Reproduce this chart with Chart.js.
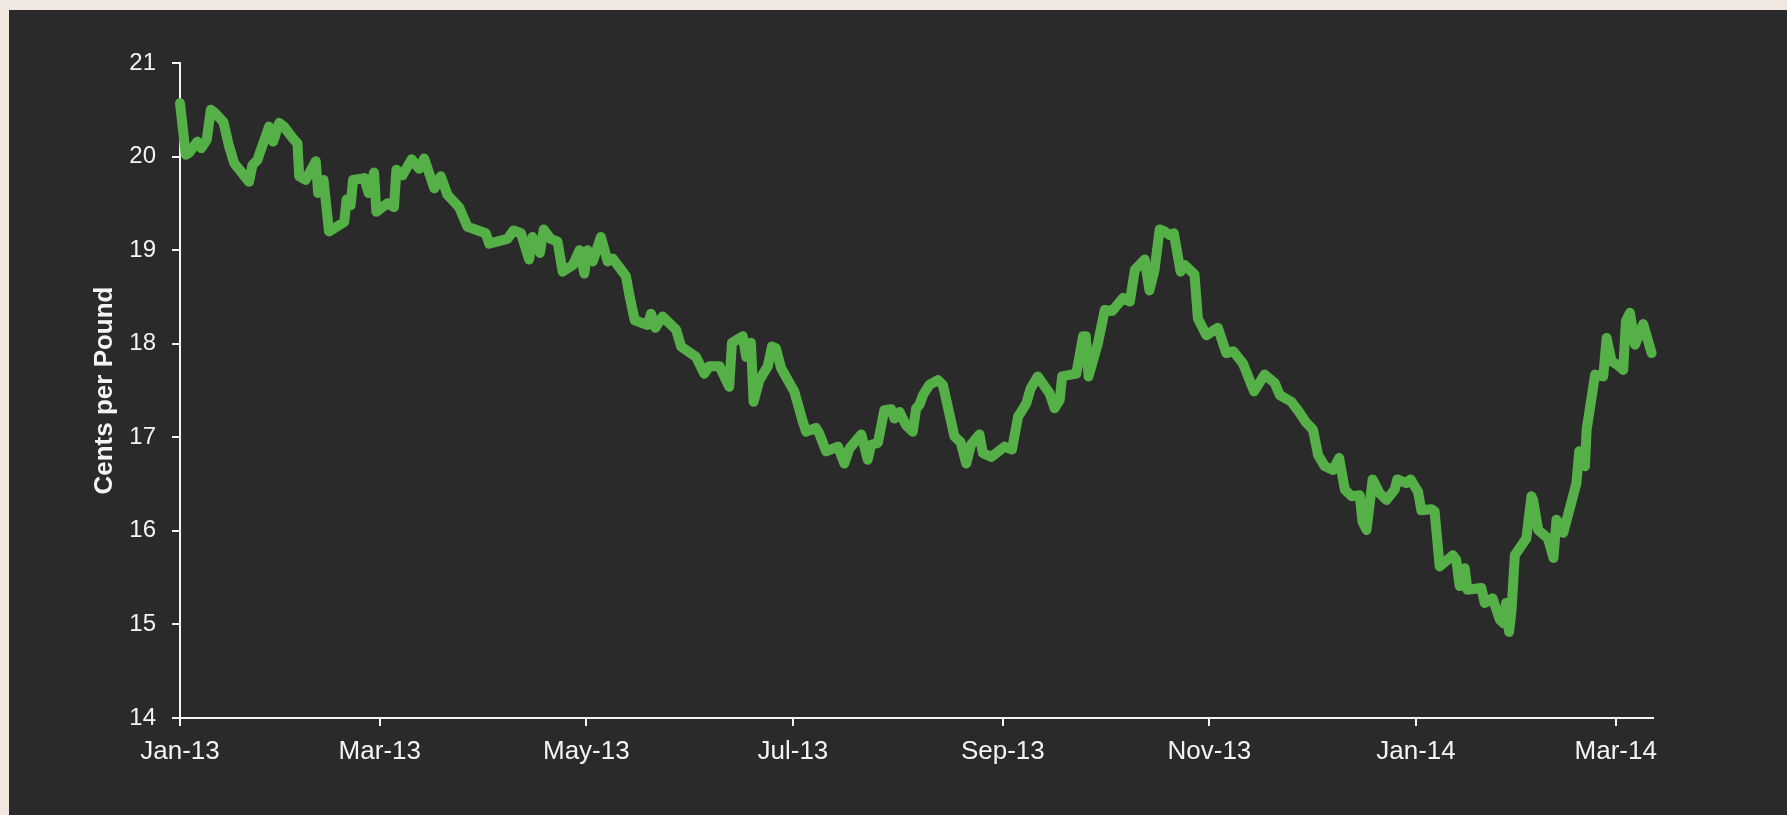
<!DOCTYPE html>
<html>
<head>
<meta charset="utf-8">
<script src="https://cdn.jsdelivr.net/npm/chart.js@4/dist/chart.umd.min.js"></script>
<style>
  html, body { margin: 0; padding: 0; background: #efe7e0; overflow: hidden; }
  #panel { position: absolute; left: 9px; top: 10px; width: 1778px; height: 805px; background: #2a2a2a; }
  #c { position: absolute; left: 0; top: 0; }
</style>
</head>
<body>
<div id="panel"></div>
<canvas id="c" width="1787" height="815"></canvas>
<script>
// Days since 1 Jan 2013
const days = [
  0, 1.7, 2.7, 5.1, 6.3, 7.9, 9.1, 10.5, 12.8, 14.5, 16, 20.4, 21.4, 22.8, 26.3, 27.5, 29.3, 30.7,
  33.2, 34.7, 35.2, 37.1, 40.1, 40.8, 42.4, 44, 48.5, 49.2, 50.4, 51.1, 54.4, 55.7, 57.3, 58,
  61.3, 63.2, 63.9, 65.7, 68.4, 70.6, 72.1, 75.1, 77, 79, 82.4, 84.9, 90.3, 91.3, 96.7, 98.5,
  100.7, 103.1, 104.1, 106.3, 107.4, 109.5, 111.5, 113, 116, 118, 119.4, 120.4, 121.9, 124.3,
  126.3, 127.8, 131.7, 132.8, 134.3, 138.1, 139.1, 140.4, 142.5, 146.5, 148, 152.4, 154.8,
  156.3, 159.3, 162.2, 163, 166.2, 167.2, 168.6, 169.4, 171.1, 173.6, 174.8, 176, 177.5, 181.4,
  183.9, 184.9, 187.8, 188.8, 190.8, 194.3, 196.2, 197.7, 201.2, 203.1, 204.1, 206.1, 208, 210,
  211, 212.5, 214.4, 216.4, 217.4, 218.4, 219.4, 221.3, 223.8, 225.3, 228.7, 230.5, 232.2,
  233.6, 236.1, 237.1, 239.6, 243.5, 245.7, 247.5, 249.9, 251.2, 253.3, 256.8, 258.3, 259.8,
  260.5, 264.7, 266.7, 267.5, 268.3, 271.1, 273.1, 275.3, 278.5, 280.5, 282, 284.9, 286.3,
  287.8, 289.3, 290.8, 292.3, 293.5, 295.5, 296.7, 299.6, 300.6, 303.1, 306.5, 309, 311, 313.9,
  317.2, 320.3, 323.3, 324.8, 328.2, 330.5, 332.5, 334.6, 336.1, 338.1, 340.5, 342.3, 344, 346,
  348.4, 349.2, 350.4, 352.2, 354.3, 356.3, 358.7, 359.5, 362.2, 363.4, 365.6, 366.6, 369.6,
  370.5, 372, 375.9, 376.9, 377.9, 379.4, 380.2, 384.3, 385.3, 387.6, 389.8, 391, 391.6, 392.5,
  393.2, 394.2, 397.6, 399.1, 399.6, 401.1, 404, 405.6, 406.5, 408.5, 412.4, 413.2, 414.9,
  415.4, 417.9, 420.3, 421.3, 422.8, 424.7, 426.2, 427, 428.2, 429.7, 432.1, 434.6
];
const centsPerPound = [
  20.57, 20.02, 20.04, 20.16, 20.09, 20.18, 20.50, 20.46, 20.37, 20.11, 19.93, 19.73, 19.91, 19.96, 20.32, 20.16, 20.36, 20.32,
  20.20, 20.14, 19.79, 19.75, 19.95, 19.61, 19.75, 19.20, 19.30, 19.54, 19.48, 19.75, 19.77, 19.61, 19.83, 19.41,
  19.50, 19.46, 19.86, 19.80, 19.97, 19.87, 19.98, 19.66, 19.79, 19.59, 19.46, 19.25, 19.18, 19.07, 19.12, 19.21,
  19.18, 18.90, 19.14, 18.97, 19.22, 19.12, 19.09, 18.77, 18.84, 19.00, 18.75, 19.00, 18.88, 19.14,
  18.88, 18.91, 18.72, 18.50, 18.25, 18.20, 18.32, 18.17, 18.29, 18.15, 17.97, 17.86, 17.68,
  17.76, 17.76, 17.54, 18.01, 18.08, 17.86, 18.01, 17.38, 17.61, 17.76, 17.97, 17.95, 17.74, 17.49,
  17.17, 17.06, 17.10, 17.04, 16.85, 16.90, 16.72, 16.88, 17.03, 16.76, 16.92, 16.94, 17.29, 17.30,
  17.20, 17.27, 17.13, 17.06, 17.31, 17.35, 17.45, 17.56, 17.61, 17.56, 17.01, 16.95, 16.72,
  16.92, 17.03, 16.83, 16.79, 16.90, 16.87, 17.22, 17.36, 17.52, 17.65, 17.47, 17.31, 17.40,
  17.65, 17.68, 18.08, 18.08, 17.65, 18.01, 18.36, 18.35, 18.49, 18.45, 18.79, 18.90, 18.57,
  18.79, 19.22, 19.20, 19.16, 19.18, 18.77, 18.84, 18.74, 18.27, 18.09, 18.17, 17.90, 17.92, 17.79,
  17.49, 17.67, 17.58, 17.45, 17.38, 17.27, 17.16, 17.08, 16.81, 16.69, 16.65, 16.78, 16.44, 16.37,
  16.38, 16.10, 16.01, 16.55, 16.40, 16.33, 16.44, 16.55, 16.51, 16.55, 16.42, 16.22, 16.23,
  16.21, 15.62, 15.74, 15.69, 15.41, 15.60, 15.37, 15.39, 15.23, 15.28, 15.05, 15.01, 15.23, 14.92,
  15.14, 15.74, 15.92, 16.37, 16.33, 16.01, 15.92, 15.71, 16.12, 15.98, 16.51, 16.85, 16.69,
  17.08, 17.67, 17.65, 18.06, 17.81, 17.77, 17.72, 18.24, 18.33, 17.99, 18.21, 17.90
];
const tickDays = [0, 59, 120, 181, 243, 304, 365, 424];
const tickLabels = ['Jan-13', 'Mar-13', 'May-13', 'Jul-13', 'Sep-13', 'Nov-13', 'Jan-14', 'Mar-14'];
const yTicks = [14, 15, 16, 17, 18, 19, 20, 21];

const points = days.map((d, i) => ({ x: d, y: centsPerPound[i] }));
const axisColor = '#f4f4f4';
const fam = "'Liberation Sans', Arial, sans-serif";

new Chart(document.getElementById('c'), {
  type: 'line',
  data: {
    datasets: [{
      data: points,
      borderColor: '#54b047',
      borderWidth: 10,
      borderJoinStyle: 'round',
      borderCapStyle: 'round',
      pointRadius: 0,
      tension: 0,
      fill: false,
      clip: 12
    }]
  },
  options: {
    responsive: false,
    animation: false,
    events: [],
    layout: { padding: { left: 0, right: 134, top: 63, bottom: 0 } },
    plugins: { legend: { display: false }, tooltip: { enabled: false } },
    scales: {
      x: {
        type: 'linear',
        min: 0,
        max: 435,
        afterBuildTicks: (s) => { s.ticks = tickDays.map(v => ({ value: v })); },
        afterFit: (s) => { s.height = 97; },
        ticks: {
          color: axisColor,
          font: { family: fam, size: 26 },
          padding: 10,
          maxRotation: 0,
          autoSkip: false,
          callback: (v) => { const i = tickDays.indexOf(v); return i >= 0 ? tickLabels[i] : ''; }
        },
        grid: { display: true, drawOnChartArea: false, drawTicks: true, tickLength: 8, color: axisColor, lineWidth: 2 },
        border: { display: true, color: axisColor, width: 2 }
      },
      y: {
        type: 'linear',
        min: 14,
        max: 21,
        afterBuildTicks: (s) => { s.ticks = yTicks.map(v => ({ value: v })); },
        afterFit: (s) => { s.width = 180; },
        ticks: { color: axisColor, font: { family: fam, size: 24 }, padding: 16, callback: (v) => String(v) },
        grid: { display: true, drawOnChartArea: false, drawTicks: true, tickLength: 8, color: axisColor, lineWidth: 2 },
        border: { display: true, color: axisColor, width: 2 },
        title: {
          display: true,
          text: 'Cents per Pound',
          color: axisColor,
          font: { family: fam, size: 26, weight: 'bold' },
          padding: { top: 89, bottom: 0 }
        }
      }
    }
  }
});
</script>
</body>
</html>
